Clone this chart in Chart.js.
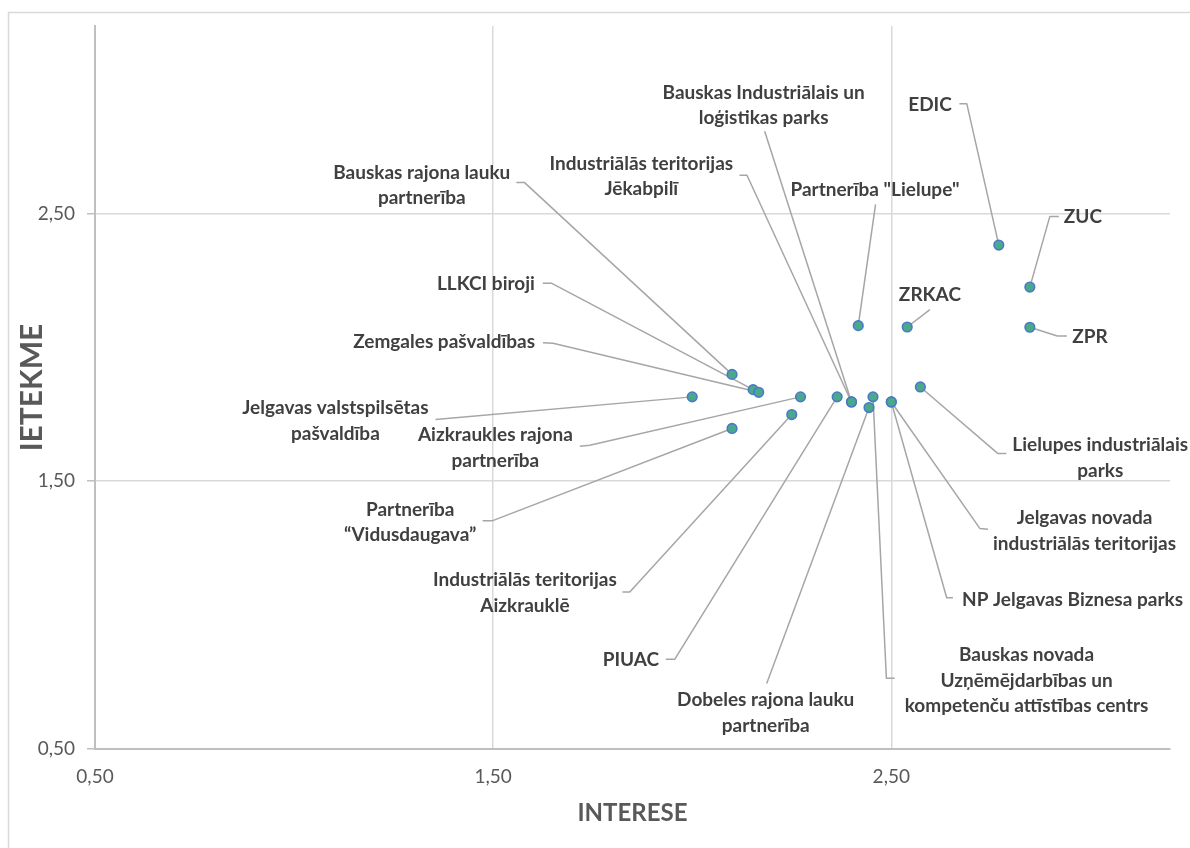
<!DOCTYPE html>
<html><head><meta charset="utf-8">
<script src="https://cdn.jsdelivr.net/npm/chart.js@4.4.1/dist/chart.umd.min.js"></script>
<style>html,body{margin:0;padding:0;background:#fff;overflow:hidden}#wrap{width:1190px;height:848px;position:relative}</style>
</head><body><div id="wrap"><canvas id="c" width="1190" height="848"></canvas></div>
<script>
// ---- data ----
const names = [
  'EDIC',
  'ZUC',
  'ZPR',
  'ZRKAC',
  'Partnerība "Lielupe"',
  'Bauskas Industriālais un loģistikas parks',
  'Industriālās teritorijas Jēkabpilī',
  'Bauskas rajona lauku partnerība',
  'LLKCI biroji',
  'Zemgales pašvaldības',
  'Jelgavas valstspilsētas pašvaldība',
  'Aizkraukles rajona partnerība',
  'Partnerība “Vidusdaugava”',
  'Industriālās teritorijas Aizkrauklē',
  'PIUAC',
  'Dobeles rajona lauku partnerība',
  'Bauskas novada Uzņēmējdarbības un kompetenču attīstības centrs',
  'NP Jelgavas Biznesa parks',
  'Jelgavas novada industriālās teritorijas',
  'Lielupes industriālais parks'
];
const interese = [2.77, 2.848, 2.848, 2.54, 2.417, 2.40, 2.40, 2.10, 2.153, 2.167, 2.00, 2.272, 2.10, 2.25, 2.364, 2.444, 2.454, 2.50, 2.50, 2.573];
const ietekme  = [2.382, 2.225, 2.075, 2.076, 2.081, 1.796, 1.796, 1.899, 1.842, 1.832, 1.815, 1.815, 1.697, 1.749, 1.815, 1.775, 1.815, 1.796, 1.796, 1.852];
const tickValues = [0.5, 1.5, 2.5];
const tickLabels = ['0,50', '1,50', '2,50'];
const axisMin = 0.5, axisMax = 3.2;
const xTitle = 'INTERESE';
const yTitle = 'IETEKME';

// ---- label layout (pixel offsets from each point; style only) ----
const labelLayout = [
  {side:'left',  ax:-47,    ay:-139.7, lines:[1],     elbow:[-32,-141.4],   end:[-39.4,-141.4]},
  {side:'right', ax:34,     ay:-70.4,  lines:[1],     elbow:[20,-70.7],     end:[29,-70.7]},
  {side:'right', ax:42.5,   ay:9.7,    lines:[1],     elbow:[27.5,8.7],     end:[37,8.7]},
  {side:'center',ax:22.7,   ay:-32.4,  lines:[1],     elbow:[22.7,-17.4]},
  {side:'center',ax:16.7,   ay:-136,   lines:[2],     elbow:[17.3,-121.3]},
  {side:'center',ax:-87.9,  ay:-309.4, lines:[3,2],   elbow:[-86.8,-270.7]},
  {side:'left',  ax:-118.3, ay:-238.4, lines:[2,1],   elbow:[-104.5,-226.7], end:[-112,-226.7]},
  {side:'left',  ax:-221.7, ay:-202,   lines:[3,1],   elbow:[-207.7,-192],  end:[-215.7,-192]},
  {side:'left',  ax:-218.3, ay:-105.3, lines:[2],     elbow:[-201.3,-106.3],end:[-210.3,-106.3]},
  {side:'left',  ax:-223.7, ay:-50,    lines:[2],     elbow:[-205.7,-49],   end:[-215.7,-49.5]},
  {side:'left',  ax:-263.7, ay:11.3,   lines:[2,1],   elbow:[-256.7,22.6]},
  {side:'left',  ax:-227.7, ay:38.3,   lines:[2,1],   elbow:[-210.7,48.3],  end:[-220.7,49.3]},
  {side:'left',  ax:-255.7, ay:81,     lines:[1,1],   elbow:[-240,92.4],    end:[-249.4,92.4]},
  {side:'left',  ax:-175,   ay:165.7,  lines:[2,1],   elbow:[-162,177.4],   end:[-169.3,177.4]},
  {side:'left',  ax:-178,   ay:263.3,  lines:[1],     elbow:[-162.3,262.3], end:[-171.3,262.3]},
  {side:'center',ax:-103.3, ay:292.7,  lines:[3,1],   elbow:[-102.3,276]},
  {side:'right', ax:31.7,   ay:258.3,  lines:[2,2,3], elbow:[13.4,281.3],   end:[21.7,281.3]},
  {side:'right', ax:70.7,   ay:198.3,  lines:[4],     elbow:[55.4,195.8],   end:[61.7,195.8]},
  {side:'right', ax:101.7,  ay:116.3,  lines:[2,2],   elbow:[88.7,126.6],   end:[96.7,127.3]},
  {side:'right', ax:92,     ay:58.3,   lines:[2,1],   elbow:[77.6,66.6],    end:[86,66.6]}
];
const LABEL_FONT = 'bold 19px Lato';
const LINE_H = 25.5;

const framePlugin = {
  id: 'frame',
  beforeDraw(chart) {
    const ctx = chart.ctx;
    ctx.save();
    ctx.fillStyle = '#ffffff';
    ctx.fillRect(0, 0, chart.width, chart.height);
    ctx.strokeStyle = '#d9d9d9';
    ctx.lineWidth = 1.5;
    ctx.strokeRect(8.5, 12.5, chart.width + 20, chart.height + 20);
    ctx.restore();
  }
};

function splitLines(text, counts) {
  const words = text.split(' ');
  const out = []; let k = 0;
  counts.forEach(c => { out.push(words.slice(k, k + c).join(' ')); k += c; });
  if (k < words.length) out[out.length - 1] += ' ' + words.slice(k).join(' ');
  return out;
}

const calloutPlugin = {
  id: 'callouts',
  beforeDatasetsDraw(chart) {
    const meta = chart.getDatasetMeta(0);
    const ctx = chart.ctx;
    ctx.save();
    ctx.strokeStyle = '#a6a6a6';
    ctx.lineWidth = 1.5;
    ctx.lineJoin = 'round';
    labelLayout.forEach((L, i) => {
      const p = meta.data[i];
      ctx.beginPath();
      ctx.moveTo(p.x, p.y);
      ctx.lineTo(p.x + L.elbow[0], p.y + L.elbow[1]);
      if (L.end) ctx.lineTo(p.x + L.end[0], p.y + L.end[1]);
      ctx.stroke();
    });
    ctx.restore();
  },
  afterDatasetsDraw(chart) {
    const meta = chart.getDatasetMeta(0);
    const ctx = chart.ctx;
    ctx.save();
    ctx.font = LABEL_FONT;
    ctx.fillStyle = '#404040';
    ctx.textBaseline = 'middle';
    ctx.textAlign = 'center';
    labelLayout.forEach((L, i) => {
      const p = meta.data[i];
      const lines = splitLines(names[i], L.lines);
      const w = Math.max(...lines.map(t => ctx.measureText(t).width));
      const ax = p.x + L.ax;
      let left = L.side === 'left' ? ax - w : (L.side === 'right' ? ax : ax - w / 2);
      const cx = left + w / 2;
      lines.forEach((t, j) => ctx.fillText(t, cx, p.y + L.ay + j * LINE_H));
    });
    ctx.restore();
  }
};

const points = names.map((n, i) => ({x: interese[i], y: ietekme[i]}));
const fmt = v => { const i = tickValues.indexOf(v); return i >= 0 ? tickLabels[i] : ''; };

new Chart(document.getElementById('c'), {
  type: 'scatter',
  data: { datasets: [{
    data: points,
    pointRadius: 4.8, pointHoverRadius: 4.8,
    backgroundColor: '#4aa98a', borderColor: '#4a78c8', borderWidth: 1.6
  }]},
  options: {
    responsive: false, animation: false, devicePixelRatio: 1,
    layout: { padding: { left: 0, top: 26, right: 20, bottom: 0 } },
    plugins: { legend: { display: false }, tooltip: { enabled: false } },
    scales: {
      x: {
        type: 'linear', min: axisMin, max: axisMax,
        afterBuildTicks: s => { s.ticks = tickValues.map(v => ({value: v})); },
        afterFit: s => { s.height = 99; },
        ticks: { callback: fmt, color: '#595959', font: { family: 'Lato', size: 19 }, padding: 16, maxRotation: 0, autoSkip: false },
        grid: { color: '#d9d9d9', lineWidth: 1.5, drawTicks: false },
        border: { color: '#bfbfbf', width: 2 },
        title: { display: true, text: xTitle, color: '#595959', font: { family: 'Lato', size: 24, weight: 'bold' }, padding: { top: 0, bottom: 20 } }
      },
      y: {
        type: 'linear', min: axisMin, max: axisMax,
        afterBuildTicks: s => { s.ticks = tickValues.map(v => ({value: v})); },
        afterFit: s => { s.width = 95; },
        ticks: { callback: fmt, color: '#595959', font: { family: 'Lato', size: 19 }, padding: 12, autoSkip: false },
        grid: { color: '#d9d9d9', lineWidth: 1.5, drawTicks: true, tickLength: 8, tickColor: '#bfbfbf' },
        border: { color: '#bfbfbf', width: 2 },
        title: { display: true, text: yTitle, color: '#595959', font: { family: 'Lato', size: 30, weight: 'bold' }, padding: { top: 14, bottom: 0 } }
      }
    }
  },
  plugins: [framePlugin, calloutPlugin]
});
</script></body></html>
